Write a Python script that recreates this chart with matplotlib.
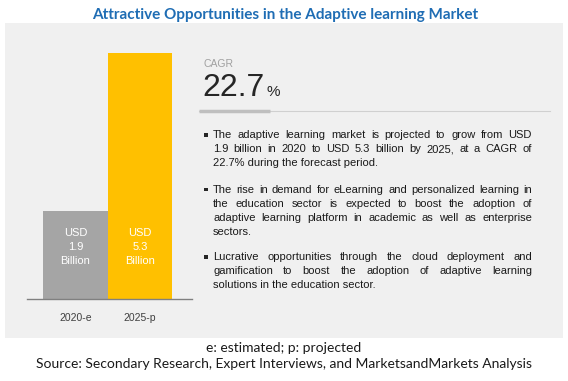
import matplotlib
matplotlib.use("Agg")
import matplotlib.pyplot as plt
from matplotlib.patches import Rectangle
from matplotlib.lines import Line2D

W, H = 568, 381

title = "Attractive Opportunities in the Adaptive learning Market"
years = ["2020-e", "2025-p"]
values = [1.9, 5.3]
bar_colors = ["#a5a5a5", "#ffc000"]
cagr = "22.7"
bullets = [
    ["The adaptive learning market is projected to grow from USD",
     "1.9 billion in 2020 to USD 5.3 billion by 2025, at a CAGR of",
     "22.7% during the forecast period."],
    ["The rise in demand for eLearning and personalized learning in",
     "the education sector is expected to boost the adoption of",
     "adaptive learning platform in academic as well as enterprise",
     "sectors."],
    ["Lucrative opportunities through the cloud deployment and",
     "gamification to boost the adoption of adaptive learning",
     "solutions in the education sector."],
]
note = "e: estimated; p: projected"
source = "Source: Secondary Research, Expert Interviews, and MarketsandMarkets Analysis"


def px(x, y):
    return x / W, 1 - y / H


fig = plt.figure(figsize=(W / 100, H / 100), dpi=100)
fig.patch.set_facecolor("white")

# grey panel behind everything
fig.patches.append(Rectangle(px(5, 338), 558 / W, 315 / H, transform=fig.transFigure,
                             facecolor="#f0f0f0", edgecolor="none", zorder=-1))

fig.text(*px(285, 15), title, ha="center", va="center", fontsize=11,
         fontweight="bold", color="#1f6db4", family="Lato")

# bars
ax = fig.add_axes([27 / W, (H - 299) / H, 165 / W, 246 / H])
ax.patch.set_alpha(0)
ax.bar([0, 1], values, width=1.0, color=bar_colors)
ax.set_xlim(-0.752, 1.806)
ax.set_ylim(0, 5.3)
for s in ["top", "right", "left"]:
    ax.spines[s].set_visible(False)
ax.spines["bottom"].set_color("#808080")
ax.spines["bottom"].set_linewidth(1.0)
ax.set_yticks([])
ax.set_xticks([0, 1])
ax.set_xticklabels(years, fontsize=7.5, color="#404040", family="Liberation Sans")
ax.tick_params(axis="x", length=0, pad=10)
# value labels sit low in each bar, same height for both
lab_y = fig.transFigure.transform(px(0, 247))[1]
lab_y = ax.transData.inverted().transform((0, lab_y))[1]
for i, v in enumerate(values):
    ax.text(i, lab_y, "USD\n%.1f\nBillion" % v, ha="center", va="center",
            color="white", fontsize=8, linespacing=1.45, family="Liberation Sans")

# CAGR block
fig.text(*px(203, 64), "CAGR", ha="left", va="center", fontsize=7.5, color="#a0a0a0",
         family="Liberation Sans")
big = fig.text(*px(202, 88), cagr, ha="left", va="center", fontsize=23, color="#262626",
               family="Liberation Sans")
fig.canvas.draw()
r = fig.canvas.get_renderer()
bb = big.get_window_extent(r)
fig.text(bb.x1 / W + 2 / W, px(0, 92)[1], "%", ha="left", va="center", fontsize=11,
         color="#262626", family="Liberation Sans")
fig.add_artist(Line2D([199 / W, 550 / W], [px(0, 111)[1]] * 2, transform=fig.transFigure,
                      color="#d0d0d0", lw=0.8))
fig.add_artist(Line2D([199 / W, 270 / W], [px(0, 110.5)[1]] * 2, transform=fig.transFigure,
                      color="#bfbfbf", lw=2.5, solid_capstyle="butt"))

# justified bullet text
x0, x1 = 213, 532
starts = [135, 190, 257]
lh = 14
fs = 8
fam = "Liberation Sans"
col = "#1a1a1a"
for para, y0 in zip(bullets, starts):
    fig.add_artist(Rectangle(px(204, y0 + 1.5), 3.5 / W, 3.5 / H, transform=fig.transFigure,
                             facecolor="#262626", edgecolor="none"))
    for k, line in enumerate(para):
        y = y0 + k * lh
        if k == len(para) - 1:
            fig.text(*px(x0, y), line, ha="left", va="center", fontsize=fs,
                     color=col, family=fam)
            continue
        words = line.split()
        objs = [fig.text(0, px(0, y)[1], w_, ha="left", va="center", fontsize=fs,
                         color=col, family=fam) for w_ in words]
        widths = [o.get_window_extent(r).width for o in objs]
        gap = (x1 - x0 - sum(widths)) / (len(words) - 1)
        xx = x0
        for o, wd in zip(objs, widths):
            o.set_x(xx / W)
            xx += wd + gap

fig.text(*px(284, 348), note, ha="center", va="center", fontsize=10, color="#1a1a1a",
         family="Lato")
fig.text(*px(284, 364), source, ha="center", va="center", fontsize=10, color="#1a1a1a",
         family="Lato")

fig.savefig("out.png", dpi=100, facecolor="white")
